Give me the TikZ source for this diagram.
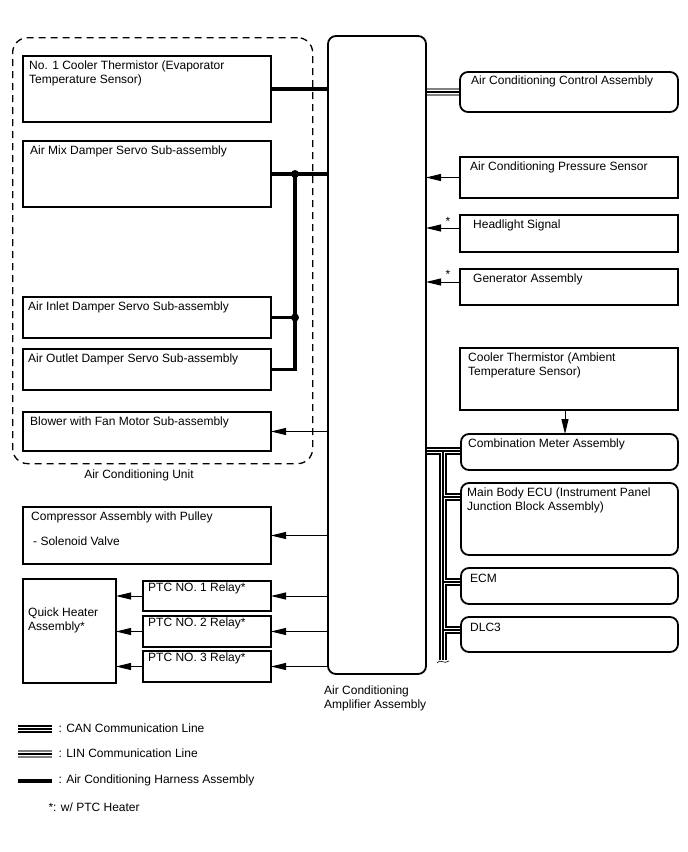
\documentclass[tikz,border=0pt]{standalone}
\usepackage{fontspec}
\setmainfont{Liberation Sans}
\usetikzlibrary{arrows.meta,calc,backgrounds}
\tikzset{
  unit/.style={draw,line width=1.8pt,anchor=north west,inner sep=0pt,outer sep=0pt},
  ecu/.style={unit,rounded corners=8pt},
  tag/.style={anchor=north west,align=left,inner sep=0pt,xshift=7pt,yshift=-5pt},
  harness/.style={line width=3.5pt},
  sig/.style={line width=1pt,-{Triangle[length=15pt,width=7pt]}},
  can/.style={line width=7.5pt,postaction={draw=white,line width=4.5pt},postaction={draw=black,line width=1.2pt}},
  lin/.style={draw=gray,line width=7.5pt,postaction={draw=white,line width=4.5pt},postaction={draw=black,line width=1.2pt}},
}

\begin{document}
\begin{tikzpicture}[x=1pt,y=-1pt,font=\fontsize{12}{14}\selectfont]
    \useasboundingbox (0,0) rectangle (688,852);
    \node[draw,dash pattern=on 7pt off 5pt,line width=1.3pt,rounded corners=15pt,anchor=north west,minimum width=300pt,minimum height=426pt,inner sep=0pt] (acu) at (12,37) {};
    \node (acutxt) at (139,475) {Air Conditioning Unit};
    \node[ecu,minimum width=98pt,minimum height=638pt] (amp) at (328,36) {};
    \node[anchor=north west,align=left,inner sep=0pt] (amptxt) at (324,686) {Air Conditioning\\Amplifier Assembly};
    \node[unit,minimum width=248pt,minimum height=66pt,label={[tag,xshift=-1pt]north west:{No. 1 Cooler Thermistor (Evaporator\\Temperature Sensor)}}] (cool) at (23,56) {};
    \node[unit,minimum width=248pt,minimum height=66pt,label={[tag]north west:Air Mix Damper Servo Sub-assembly}] (mix) at (23,141) {};
    \node[unit,minimum width=248pt,minimum height=41pt,label={[tag,xshift=-2pt]north west:Air Inlet Damper Servo Sub-assembly}] (inlet) at (23,297) {};
    \node[unit,minimum width=248pt,minimum height=41pt,label={[tag,xshift=-2pt]north west:Air Outlet Damper Servo Sub-assembly}] (outlet) at (23,349) {};
    \node[unit,minimum width=248pt,minimum height=39pt,label={[tag]north west:Blower with Fan Motor Sub-assembly}] (blower) at (23,412) {};
    \node[unit,minimum width=248pt,minimum height=57pt,label={[tag,xshift=1pt]north west:{Compressor Assembly with Pulley\\[11pt]\hspace{2pt}- Solenoid Valve}}] (comp) at (23,507) {};
    \node[unit,minimum width=93pt,minimum height=104pt] (heater) at (23,579) {};
    \node[anchor=north west,align=left,inner sep=0pt] (heatertxt) at (28,608) {Quick Heater\\Assembly*};
    \node[unit,minimum width=128pt,minimum height=30pt,label={[tag,xshift=-2pt,yshift=3pt]north west:PTC NO. 1 Relay*}] (ptc1) at (143,581) {};
    \node[unit,minimum width=128pt,minimum height=31pt,label={[tag,xshift=-2pt,yshift=3pt]north west:PTC NO. 2 Relay*}] (ptc2) at (143,616) {};
    \node[unit,minimum width=128pt,minimum height=31pt,label={[tag,xshift=-2pt,yshift=3pt]north west:PTC NO. 3 Relay*}] (ptc3) at (143,651) {};
    \node[ecu,minimum width=218pt,minimum height=40pt,label={[tag,xshift=4pt,yshift=1pt]north west:Air Conditioning Control Assembly}] (acc) at (460,72) {};
    \node[unit,minimum width=218pt,minimum height=41pt,label={[tag,xshift=3pt]north west:Air Conditioning Pressure Sensor}] (press) at (460,157) {};
    \node[unit,minimum width=218pt,minimum height=37pt,label={[tag,xshift=6pt]north west:Headlight Signal}] (head) at (460,215) {};
    \node[unit,minimum width=218pt,minimum height=36pt,label={[tag,xshift=6pt]north west:Generator Assembly}] (gen) at (460,269) {};
    \node[unit,minimum width=218pt,minimum height=62pt,label={[tag,xshift=1pt]north west:{Cooler Thermistor (Ambient\\Temperature Sensor)}}] (amb) at (460,348) {};
    \node[ecu,minimum width=217pt,minimum height=36pt,label={[tag]north west:Combination Meter Assembly}] (comb) at (461,434) {};
    \node[ecu,minimum width=217pt,minimum height=72pt,label={[tag,xshift=-1pt]north west:{Main Body ECU (Instrument Panel\\Junction Block Assembly)}}] (body) at (461,483) {};
    \node[ecu,minimum width=217pt,minimum height=36pt,label={[tag,xshift=2pt,yshift=-1pt]north west:ECM}] (ecm) at (461,568) {};
    \node[ecu,minimum width=217pt,minimum height=35pt,label={[tag,xshift=2pt,yshift=-1pt]north west:DLC3}] (dlc) at (461,617) {};
    \coordinate (hs) at ([yshift=-13pt]head.north west);
    \coordinate (gs) at ([yshift=-13pt]gen.north west);
    \node[inner sep=0pt] (hsx) at ($(hs)+(-12,-7)$) {*};
    \node[inner sep=0pt] (gsx) at ($(gs)+(-12,-8)$) {*};
    \coordinate (jtop) at ($(mix.east)+(24,0)$);
    \coordinate (jlow) at (jtop |- inlet.east);
    \coordinate (bustop) at ($(comb.north west)+(-18,17)$);
    \coordinate (busend) at (bustop |- 0,660);
    \coordinate (bodyin) at ([yshift=-14pt]body.north west);
    \coordinate (ecmin) at ([yshift=-14pt]ecm.north west);
    \coordinate (dlcin) at ([yshift=-13pt]dlc.north west);
    \coordinate (ambout) at ([xshift=-4pt]amb.south);
    \begin{scope}[on background layer]
      \draw[harness] (cool.east) -- (cool.east -| amp.west);
      \draw[harness] (mix.east) -- (mix.east -| amp.west);
      \draw[harness] (jtop) |- (outlet.east);
      \draw[harness] (inlet.east) -- (jlow);
      \fill (jtop) circle[radius=4pt];
      \fill (jlow) circle[radius=4pt];
      \draw[sig] (amp.west |- blower.east) -- (blower.east);
      \draw[sig] (amp.west |- comp.east) -- (comp.east);
      \foreach \r in {ptc1,ptc2,ptc3} {
        \draw[sig] (amp.west |- \r.east) -- (\r.east);
        \draw[sig] (\r.west) -- (\r.west -| heater.east);
      }
      \draw[lin] (amp.east |- acc.west) -- (acc.west);
      \draw[sig] (press.west) -- (press.west -| amp.east);
      \draw[sig] (hs) -- (hs -| amp.east);
      \draw[sig] (gs) -- (gs -| amp.east);
      \draw[sig] (ambout) -- (ambout |- comb.north);
      \draw[can] (amp.east |- bustop) -- (bustop -| comb.west)
        (bustop) -- (busend)
        (bustop |- bodyin) -- (bodyin)
        (bustop |- ecmin) -- (ecmin)
        (bustop |- dlcin) -- (dlcin);
      \draw[line width=0.6pt] ($(busend)+(-6,3)$) .. controls ($(busend)+(-3,-2)$) and ($(busend)+(1,5)$) .. ($(busend)+(6,1)$);
    \end{scope}
    \coordinate (canA) at (18,729);
    \coordinate (canB) at (52,729);
    \coordinate (linA) at (18,754);
    \coordinate (linB) at (52,754);
    \coordinate (harA) at (18,781);
    \coordinate (harB) at (52,781);
    \draw[can] (canA) -- (canB);
    \draw[lin] (linA) -- (linB);
    \draw[harness] (harA) -- (harB);
    \node[anchor=west] (cantxt) at (55,728) {: CAN Communication Line};
    \node[anchor=west] (lintxt) at (55,753) {: LIN Communication Line};
    \node[anchor=west] (hartxt) at (55,780) {: Air Conditioning Harness Assembly};
    \node[anchor=west] (ptctxt) at (45,807) {*: w/ PTC Heater};
\end{tikzpicture}
\end{document}
